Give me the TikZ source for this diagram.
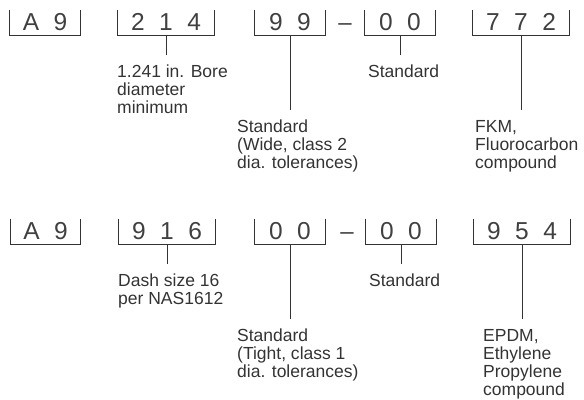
\documentclass[tikz,border=0pt]{standalone}
\usepackage{fontspec}
\setmainfont{Liberation Sans}
\usepackage{tikz}

\tikzset{
  digits/.style={inner sep=0pt, minimum height=25.5bp, text depth=2.5bp,
    font=\fontsize{24.5bp}{26bp}\selectfont, text=black!75},
  two/.style={digits, minimum width=70bp},
  three/.style={digits, minimum width=96bp},
  lab/.style={anchor=north west, align=left, inner xsep=0pt, inner ysep=10bp,
    font=\fontsize{17.5bp}{18bp}\selectfont, text=black!80},
  ln/.style={draw=black!80, line width=0.95bp}
}
\newcommand{\gap}{\hspace{14.5bp}}

\begin{document}
\begin{tikzpicture}[x=1bp,y=-1bp]
\useasboundingbox (0,0) rectangle (584,399);

% first part number
\node[two] (A) at (45,22.75) {A\gap 9};
\node[three] (B) at (166,22.75) {2\gap 1\gap 4};
\node[two] (C) at (290,22.75) {9\gap 9};
\node[anchor=base, inner sep=0pt, font=\fontsize{24bp}{26bp}\selectfont, text=black!75] (K) at (345,30) {--};
\node[two] (D) at (400,22.75) {0\gap 0};
\node[three] (E) at (521,22.75) {7\gap 7\gap 2};

\node[lab] (b) at (117,55) {1.241 in. Bore\\diameter\\minimum};
\node[lab] (c) at (237,110) {Standard\\(Wide, class 2\\dia. tolerances)};
\node[lab] (d) at (368,55) {Standard};
\node[lab] (e) at (475,110) {FKM,\\Fluorocarbon\\compound};

% second part number
\node[two] (F) at (45.5,231.75) {A\gap 9};
\node[three] (G) at (167,231.75) {9\gap 1\gap 6};
\node[two] (H) at (290,231.75) {0\gap 0};
\node[anchor=base, inner sep=0pt, font=\fontsize{24bp}{26bp}\selectfont, text=black!75] (L) at (347,239) {--};
\node[two] (I) at (401,231.75) {0\gap 0};
\node[three] (J) at (522,231.75) {9\gap 5\gap 4};

\node[lab] (g) at (118,264) {Dash size 16\\per NAS1612};
\node[lab] (h) at (237,319) {Standard\\(Tight, class 1\\dia. tolerances)};
\node[lab] (i) at (369,264) {Standard};
\node[lab] (j) at (483,319) {EPDM,\\Ethylene\\Propylene\\compound};

\foreach \n in {A,B,C,D,E,F,G,H,I,J}
  \draw[ln] (\n.north west) -- (\n.south west) -- (\n.south east) -- (\n.north east);

\foreach \n/\m in {B/b,C/c,D/d,E/e,G/g,H/h,I/i,J/j}
  \draw[ln] (\n.south) -- (\n.south |- \m.north);
\end{tikzpicture}
\end{document}
